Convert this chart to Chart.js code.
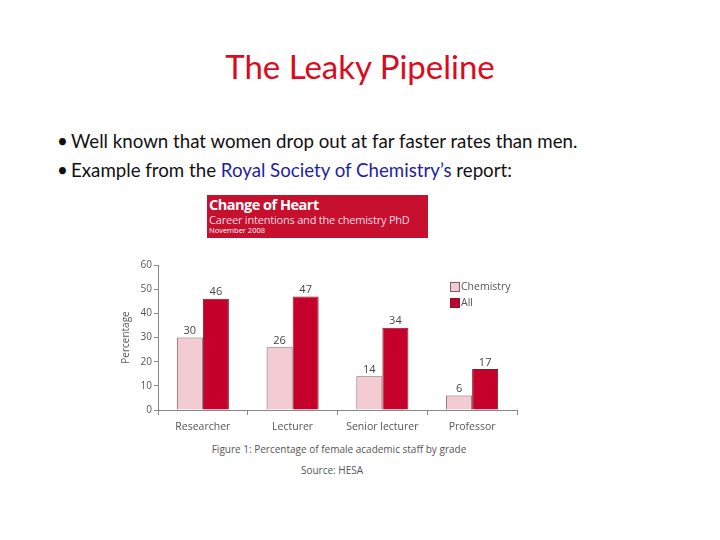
<!DOCTYPE html>
<html>
<head>
<meta charset="utf-8">
<script src="https://cdn.jsdelivr.net/npm/chart.js@4/dist/chart.umd.min.js"></script>
<style>
  html, body { margin:0; padding:0; background:#fff; }
  body { width:720px; height:540px; position:relative; overflow:hidden; font-family: Lato, "Open Sans", sans-serif; }
  #title { position:absolute; left:0; width:720px; top:46px; text-align:center; font-size:33px; color:#dc0a1c; font-family: Lato, sans-serif; }
  .bullet { position:absolute; left:57px; font-size:18.7px; color:#111; white-space:nowrap; }
  .bullet span.dot { display:inline-block; width:14px; }
  .blue { color:#1f1fa0; }
  #banner { position:absolute; left:207px; top:195px; width:221px; height:43px; background:#c70f2e; color:#fff; font-family:"Open Sans", sans-serif; }
  #banner .h { position:absolute; left:2px; top:0px; font-size:14.5px; font-weight:bold; letter-spacing:-0.5px; }
  #banner .s { position:absolute; left:2px; top:17px; font-size:11px; color:#f6dbe0; letter-spacing:-0.2px; }
  #banner .d { position:absolute; left:2px; top:30px; font-size:7.5px; }
  #wrap { position:absolute; left:100px; top:250px; width:440px; height:190px; }
  .cap { position:absolute; left:0; width:678px; text-align:center; font-family:"Open Sans", sans-serif; font-size:10px; color:#555; }
</style>
</head>
<body>
<div id="title">The Leaky Pipeline</div>
<div class="bullet" style="top:130px"><span class="dot">•</span>Well known that women drop out at far faster rates than men.</div>
<div class="bullet" style="top:159px"><span class="dot">•</span>Example from the <span class="blue">Royal Society of Chemistry’s</span> report:</div>
<div id="banner">
  <div class="h">Change of Heart</div>
  <div class="s">Career intentions and the chemistry PhD</div>
  <div class="d">November 2008</div>
</div>
<div id="wrap"><canvas id="c" width="440" height="190"></canvas></div>
<div class="cap" style="top:442px">Figure 1: Percentage of female academic staff by grade</div>
<div class="cap" style="top:463px; width:664px">Source: HESA</div>
<script>
const categories = ["Researcher", "Lecturer", "Senior lecturer", "Professor"];
const chemistry = [30, 26, 14, 6];
const allStaff = [46, 47, 34, 17];
const yTicks = [0, 10, 20, 30, 40, 50, 60];

const labelPlugin = {
  id: 'valueLabels',
  afterDatasetsDraw(chart) {
    const ctx = chart.ctx;
    ctx.save();
    ctx.font = '11px "Open Sans", sans-serif';
    ctx.fillStyle = '#444';
    ctx.textAlign = 'center';
    ctx.textBaseline = 'bottom';
    chart.data.datasets.forEach((ds, i) => {
      chart.getDatasetMeta(i).data.forEach((bar, j) => {
        ctx.fillText(String(ds.data[j]), bar.x, bar.y - 1);
      });
    });
    ctx.restore();
  }
};
const legendPlugin = {
  id: 'innerLegend',
  afterDraw(chart) {
    const ctx = chart.ctx;
    const a = chart.chartArea;
    ctx.save();
    ctx.font = '10.5px "Open Sans", sans-serif';
    ctx.textBaseline = 'middle';
    chart.data.datasets.forEach((ds, i) => {
      const x = a.right - 67, y = a.top + 22 + i * 16;
      ctx.fillStyle = ds.backgroundColor;
      ctx.fillRect(x, y - 5, 10, 10);
      ctx.strokeStyle = ds.borderColor;
      ctx.lineWidth = 1;
      ctx.strokeRect(x + 0.5, y - 4.5, 9, 9);
      ctx.fillStyle = '#555';
      ctx.fillText(ds.label, x + 11, y);
    });
    ctx.restore();
  }
};

new Chart(document.getElementById('c'), {
  type: 'bar',
  data: {
    labels: categories,
    datasets: [
      { label: 'Chemistry', data: chemistry, backgroundColor: '#f2cbd3', borderColor: '#7d6066', borderWidth: 1 },
      { label: 'All', data: allStaff, backgroundColor: '#c4002b', borderColor: '#7a1a2a', borderWidth: 1 }
    ]
  },
  options: {
    responsive: false,
    animation: false,
    devicePixelRatio: 1,
    layout: { padding: { top: 15, right: 23, left: 20, bottom: 0 } },
    plugins: { legend: { display: false }, tooltip: { enabled: false } },
    datasets: { bar: { categoryPercentage: 0.58, barPercentage: 1.0 } },
    scales: {
      x: {
        grid: { offset: true, drawOnChartArea: false, tickLength: 5, color: '#888' },
        border: { color: '#888' },
        ticks: { color: '#555', font: { family: '"Open Sans", sans-serif', size: 10.5 }, padding: 6 },
        afterFit(s) { s.height = 30; }
      },
      y: {
        min: 0, max: 60,
        afterBuildTicks(s) { s.ticks = yTicks.map(v => ({ value: v })); },
        grid: { drawOnChartArea: false, tickLength: 4, color: '#888' },
        border: { color: '#888' },
        ticks: { color: '#555', font: { family: '"Open Sans", sans-serif', size: 10 }, padding: 2 },
        title: { display: true, text: 'Percentage', color: '#555', font: { family: '"Open Sans", sans-serif', size: 10 }, padding: 0 },
        afterFit(s) { s.width = 38; }
      }
    }
  },
  plugins: [labelPlugin, legendPlugin]
});
</script>
</body>
</html>
